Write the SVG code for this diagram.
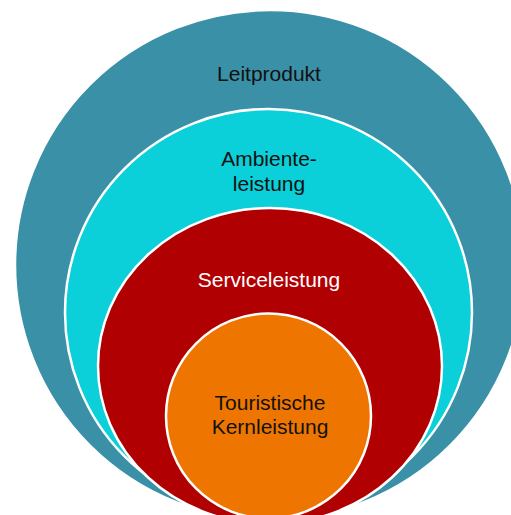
<svg xmlns="http://www.w3.org/2000/svg" width="511" height="515" viewBox="0 0 511 515">
  <style>
    .ring { stroke: #ffffff; stroke-width: 2.5; }
    .lbl { font-family: "Liberation Sans", Arial, sans-serif; font-size: 21px; text-anchor: middle; }
    .dark { fill: #111111; }
    .light { fill: #ffffff; }
  </style>
  <rect width="511" height="515" fill="#ffffff"/>
  <g id="leitprodukt">
    <circle class="ring" cx="270" cy="265" r="255" fill="#3A90A6"/>
    <text class="lbl dark" x="269" y="81">Leitprodukt</text>
  </g>
  <g id="ambienteleistung">
    <circle class="ring" cx="268.5" cy="312.5" r="203.5" fill="#0BCFD9"/>
    <text class="lbl dark" x="269" y="166">Ambiente-</text>
    <text class="lbl dark" x="269" y="191">leistung</text>
  </g>
  <g id="serviceleistung">
    <ellipse class="ring" cx="270" cy="366" rx="172" ry="158" fill="#B00002"/>
    <text class="lbl light" x="269" y="287">Serviceleistung</text>
  </g>
  <g id="kernleistung">
    <circle class="ring" cx="268.5" cy="416" r="102.5" fill="#EE7600"/>
    <text class="lbl dark" x="270" y="410">Touristische</text>
    <text class="lbl dark" x="270" y="434">Kernleistung</text>
  </g>
  <g id="connectors"/>
</svg>
